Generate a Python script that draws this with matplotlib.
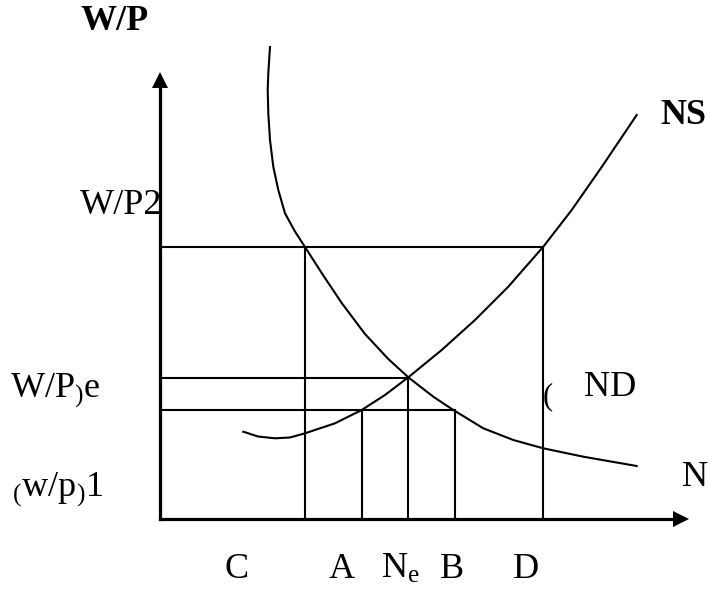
import matplotlib.pyplot as plt

plt.rcParams['font.family'] = 'Liberation Serif'
plt.rcParams['mathtext.fontset'] = 'custom'
plt.rcParams['mathtext.rm'] = 'Liberation Serif'
plt.rcParams['mathtext.default'] = 'rm'

# labour demand curve ND (N, W/P)
nd_n = [11.0, 10.83, 10.77, 10.83, 11.0, 11.33, 11.83, 12.5, 13.5, 14.5, 16.17, 18.17, 20.5,
        22.83, 24.83, 27.33, 29.33, 32.33, 35.33, 38.33, 42.33, 47.67]
nd_w = [47.2, 44.57, 42.9, 40.57, 37.9, 35.23, 32.9, 30.57, 28.75, 27.2, 24.6, 21.6, 18.5,
        16.0, 14.17, 12.23, 10.9, 9.07, 7.9, 7.07, 6.23, 5.3]

# labour supply curve NS
ns_n = [8.33, 9.8, 11.5, 13.0, 14.5, 17.5, 20.17, 22.5, 24.83, 28.17, 31.5, 34.83, 38.33, 41.17, 44.17, 47.67]
ns_w = [8.73, 8.25, 8.07, 8.15, 8.57, 9.57, 10.9, 12.4, 14.17, 16.9, 19.9, 23.23, 27.23, 30.9, 35.2, 40.4]

# wage levels and employment levels
w2, we, w1 = 27.2, 14.1, 10.9
n_c, n_a, n_e, n_b, n_d = 14.5, 20.2, 24.8, 29.5, 38.3

fig = plt.figure(figsize=(7.09, 5.92), dpi=100)
ax = fig.add_axes([0, 0, 1, 1])
ax.set_xlim(-16, 54.9)
ax.set_ylim(-7.3, 51.9)
ax.axis('off')

lw = 1.5
# axes with arrows
ax.plot([0, 0], [0, 43.6], color='black', lw=2.3)
ax.plot([0, 51.6], [0, 0], color='black', lw=2.3)
ax.plot(0, 43.95, marker='^', ms=11.5, color='black', mew=0)
ax.plot(52.05, 0, marker='>', ms=11, color='black', mew=0)

# curves
ax.plot(nd_n, nd_w, color='black', lw=lw, solid_joinstyle='round')
ax.plot(ns_n, ns_w, color='black', lw=lw, solid_joinstyle='round')

# guide lines
ax.plot([0, n_d], [w2, w2], color='black', lw=lw)
ax.plot([n_c, n_c], [0, w2], color='black', lw=lw)
ax.plot([n_d, n_d], [0, w2], color='black', lw=lw)
ax.plot([0, n_e], [we, we], color='black', lw=lw)
ax.plot([n_e, n_e], [0, we], color='black', lw=lw)
ax.plot([0, n_b], [w1, w1], color='black', lw=lw)
ax.plot([n_a, n_a], [0, w1], color='black', lw=lw)
ax.plot([n_b, n_b], [0, w1], color='black', lw=lw)

fs = 26
ax.text(-4.5, 49.7, 'W/P', fontsize=fs, fontweight='bold', ha='center', va='center')
ax.text(-8.0, 31.3, 'W/P2', fontsize=fs, ha='left', va='center')
ax.text(-15.0, 12.8, 'W/P$_{)}$e', fontsize=fs, ha='left', va='center')
ax.text(-14.8, 2.9, '$_{(}$w/p$_{)}$1', fontsize=fs, ha='left', va='center')
ax.text(52.3, 40.4, 'NS', fontsize=fs, fontweight='bold', ha='center', va='center')
ax.text(45.0, 13.2, 'ND', fontsize=fs, ha='center', va='center')
ax.text(38.8, 12.2, '(', fontsize=22, ha='center', va='center')
ax.text(53.5, 4.1, 'N', fontsize=fs, ha='center', va='center')
for x, s in [(7.7, 'C'), (18.2, 'A'), (24.0, 'N$_{e}$'), (29.2, 'B'), (36.6, 'D')]:
    ax.text(x, -5.0, s, fontsize=fs, ha='center', va='center')

fig.savefig('out.png', dpi=100)
